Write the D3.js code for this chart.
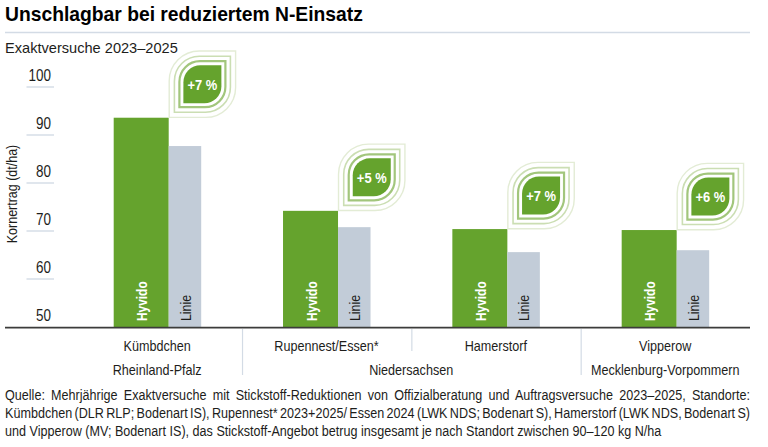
<!DOCTYPE html>
<html><head><meta charset="utf-8">
<script src="https://cdn.jsdelivr.net/npm/d3@7"></script>
<style>
html,body{margin:0;padding:0;background:#fff}
svg{display:block}
text{font-family:"Liberation Sans",Arial,sans-serif;fill:#1d1d1b}
</style></head><body>
<svg id="chart" width="768" height="447"></svg>
<script>
const sites = ["Kümbdchen", "Rupennest/Essen*", "Hamerstorf", "Vipperow"];
const hyvido = [93.6, 74.2, 70.4, 70.2];
const linie = [87.7, 70.8, 65.6, 66.0];
const gains = ["+7 %", "+5 %", "+7 %", "+6 %"];
const yTicks = [50, 60, 70, 80, 90, 100];
const regions = [
  {name: "Rheinland-Pfalz", from: 0, to: 0},
  {name: "Niedersachsen", from: 1, to: 2},
  {name: "Mecklenburg-Vorpommern", from: 3, to: 3}
];
const sourceLines = [
  "Quelle: Mehrjährige Exaktversuche mit Stickstoff-Reduktionen von Offizialberatung und Auftragsversuche 2023–2025, Standorte:",
  "Kümbdchen (DLR RLP; Bodenart IS), Rupennest* 2023+2025/ Essen 2024 (LWK NDS; Bodenart S), Hamerstorf (LWK NDS, Bodenart S)",
  "und Vipperow (MV; Bodenart IS), das Stickstoff-Angebot betrug insgesamt je nach Standort zwischen 90–120 kg N/ha"
];

const GREEN = "#65a32d", GREY = "#c2ccd8", RULE = "#d3dbe5";
const svg = d3.select("#chart");

// The house face is a condensed grotesque: squeeze glyphs horizontally by factor k.
function condense(sel, k) {
  sel.each(function () {
    d3.select(this).attr("lengthAdjust", "spacingAndGlyphs")
      .attr("textLength", this.getComputedTextLength() * k);
  });
  return sel;
}

const y = d3.scaleLinear().domain([50, 100]).range([327, 87]);
const x = d3.scaleBand().domain(sites).range([73.2, 750.5]).padding(0);
const barOffset = 40.5, greenW = 55, greyW = 32.5, labelOffset = 84;

// header
svg.append("text").attr("x", 5).attr("y", 20.5)
  .style("font-weight", 700).style("font-size", "19.3px").style("fill", "#000")
  .text("Unschlagbar bei reduziertem N-Einsatz");
svg.append("line").attr("x1", 5).attr("x2", 750).attr("y1", 32.5).attr("y2", 32.5)
  .attr("stroke", RULE).attr("stroke-width", 1.5);
svg.append("text").attr("x", 5).attr("y", 53)
  .style("font-size", "14.6px").text("Exaktversuche 2023–2025");

// value axis: each label sits above its own rule
const axis = svg.append("g").selectAll("g").data(yTicks).join("g");
axis.filter(d => d !== 50).append("line")
  .attr("x1", 26.5).attr("x2", 54).attr("y1", d => y(d)).attr("y2", d => y(d))
  .attr("stroke", RULE).attr("stroke-width", 1.4);
condense(axis.append("text").attr("x", 51).attr("y", d => y(d) - 6.3).attr("text-anchor", "end")
  .style("font-size", "16px").text(d => d), 0.84);
condense(svg.append("text").attr("transform", "translate(17,194) rotate(-90)")
  .attr("text-anchor", "middle").style("font-size", "14.5px").text("Kornertrag (dt/ha)"), 0.86);

// bars
const groups = svg.append("g").selectAll("g").data(sites).join("g")
  .attr("transform", d => `translate(${x(d)},0)`);
groups.append("rect").attr("x", barOffset).attr("width", greenW)
  .attr("y", (d, i) => y(hyvido[i])).attr("height", (d, i) => y(50) - y(hyvido[i]))
  .attr("fill", GREEN);
groups.append("rect").attr("x", barOffset + greenW).attr("width", greyW)
  .attr("y", (d, i) => y(linie[i])).attr("height", (d, i) => y(50) - y(linie[i]))
  .attr("fill", GREY);
condense(groups.append("text").attr("transform", `translate(${barOffset + 33.5},321) rotate(-90)`)
  .style("font-size", "14.5px").style("font-weight", 700).style("fill", "#fff").text("Hyvido"), 0.82);
condense(groups.append("text").attr("transform", `translate(${barOffset + greenW + 22},321) rotate(-90)`)
  .style("font-size", "15px").text("Linie"), 0.82);

// leaf badge: top-right and bottom-left corners pointed, the other two rounded
function leaf(h, r) {
  const p = d3.path();
  p.moveTo(-h, h);
  p.lineTo(-h, -h + r);
  p.arcTo(-h, -h, -h + r, -h, r);
  p.lineTo(h, -h);
  p.lineTo(h, h - r);
  p.arcTo(h, h, h - r, h, r);
  p.closePath();
  return p.toString();
}
const rings = [
  {h: 33.2, r: 30, stroke: "#e3ecd5", w: 1.4},
  {h: 28, r: 25, stroke: "#cbdeb3", w: 1.6},
  {h: 23, r: 20.5, stroke: "#a2c67c", w: 2.2}
];
const badges = groups.append("g")
  .attr("transform", (d, i) => `translate(${barOffset + greenW + 33.7},${y(hyvido[i]) - 33.5})`);
rings.forEach(o => {
  badges.append("path").attr("d", leaf(o.h, o.r))
    .attr("fill", "none").attr("stroke", o.stroke).attr("stroke-width", o.w);
});
badges.append("path").attr("d", leaf(19, 17)).attr("fill", GREEN);
condense(badges.append("text").attr("text-anchor", "middle").attr("y", 5.8)
  .style("font-size", "15px").style("font-weight", 700).style("fill", "#fff")
  .text((d, i) => gains[i]), 0.86);

// baseline, site names, separators
svg.append("line").attr("x1", 5).attr("x2", 750).attr("y1", 327.6).attr("y2", 327.6)
  .attr("stroke", "#3c3c3b").attr("stroke-width", 1.6);
condense(groups.append("text").attr("x", labelOffset).attr("y", 350.5).attr("text-anchor", "middle")
  .style("font-size", "15px").text(d => d), 0.84);
const seps = [
  {x: x(sites[1]), y2: 375}, {x: x(sites[2]), y2: 351}, {x: x(sites[3]), y2: 375}
];
svg.append("g").selectAll("line").data(seps).join("line")
  .attr("x1", d => d.x).attr("x2", d => d.x).attr("y1", 329).attr("y2", d => d.y2)
  .attr("stroke", RULE).attr("stroke-width", 1.2);
condense(svg.append("g").selectAll("text").data(regions).join("text")
  .attr("x", d => (x(sites[d.from]) + x(sites[d.to])) / 2 + labelOffset)
  .attr("y", 375).attr("text-anchor", "middle").style("font-size", "15px").text(d => d.name), 0.84);

// justified source note, squeezed as a block so word gaps stay adjustable
const noteK = 0.84, noteWidth = 745;
const note = svg.append("g").selectAll("text").data(sourceLines).join("text")
  .attr("transform", (d, i) => `translate(5,${400 + i * 18}) scale(${noteK},1)`)
  .style("font-size", "15px").text(d => d);
note.each(function (d, i) {
  if (i === 2) return;
  const gaps = d.split(" ").length - 1;
  const spare = noteWidth / noteK - this.getComputedTextLength();
  d3.select(this).style("word-spacing", (spare / gaps) + "px");
});
</script></body></html>
